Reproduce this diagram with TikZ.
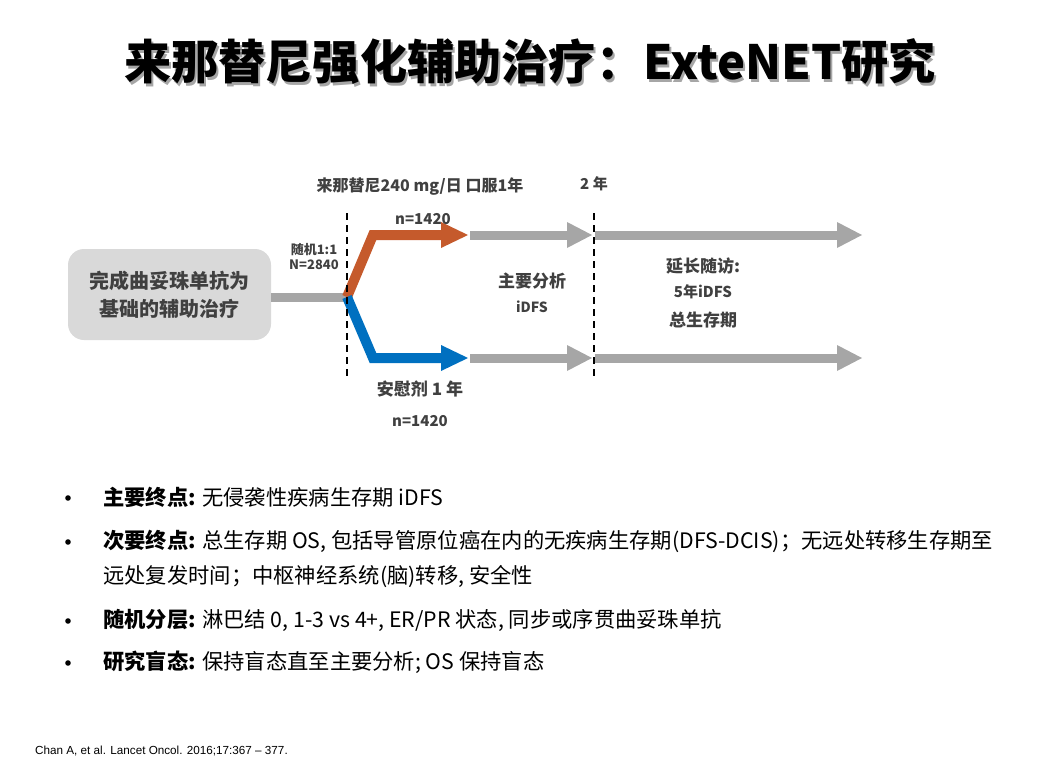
\documentclass[tikz,border=0pt]{standalone}
\usepackage{fontspec}
\setmainfont{Noto Sans CJK SC}
\newfontfamily\arialf{Liberation Sans}
\definecolor{tgray}{HTML}{404040}
\definecolor{boxgray}{HTML}{D9D9D9}
\definecolor{argray}{HTML}{A6A6A6}
\definecolor{orng}{HTML}{C55A2C}
\definecolor{blu}{HTML}{0070C0}
\newcommand{\fs}[1]{\fontsize{#1}{#1}\selectfont}
\tikzset{
  lbl/.style={inner sep=0pt, text=tgray, font=\bfseries\fs{#1}, align=center},
  bul/.style={inner sep=0pt, anchor=west, font=\fs{21.3}, text=black},
  fat/.style={line width=9pt, draw=#1},
  vdash/.style={draw=black, line width=1.6pt, dash pattern=on 7pt off 5pt}
}
\begin{document}
\begin{tikzpicture}[x=1pt,y=-1pt]
\useasboundingbox (0,0) rectangle (1055,784);
% title
\node[inner sep=0pt, font=\bfseries\fs{47.2}, text=black!35] (titleshadow) at (532,64.5) {来那替尼强化辅助治疗：ExteNET研究};
\node[inner sep=0pt, font=\bfseries\fs{47.2}, text=black] (title) at (530,62) {来那替尼强化辅助治疗：ExteNET研究};
% start box
\node[fill=boxgray, rounded corners=16pt, minimum width=203pt, minimum height=91pt, align=center,
      font=\bfseries\fontsize{20}{28}\selectfont, text=tgray, inner sep=0pt] (start) at (169.5,294.5) {完成曲妥珠单抗为\\基础的辅助治疗};
% coordinates
\coordinate (split) at (347,297);
\coordinate (obend) at (373,235);
\coordinate (oend) at (443,235);
\coordinate (otip) at (468,235);
\coordinate (bbend) at (373,358);
\coordinate (bend) at (443,358);
\coordinate (btip) at (468,358);
% gray line from box
\draw[fat=argray] (start.east |- split) -- (split);
% orange and blue branches
\draw[fat=orng, line width=10pt, line join=miter] (split) -- (obend) -- (oend);
\fill[orng] (441,222) -- (otip) -- (441,248) -- cycle;
\draw[fat=blu, line width=10pt, line join=miter] (split) -- (bbend) -- (bend);
\fill[blu] (441,345) -- (btip) -- (441,371) -- cycle;
% gray arrows
\foreach \yy in {235,358}{
  \draw[fat=argray] (470,\yy) -- (569,\yy);
  \fill[argray] (567,\yy-13) -- (592,\yy) -- (567,\yy+13) -- cycle;
  \draw[fat=argray] (595,\yy) -- (839,\yy);
  \fill[argray] (837,\yy-13) -- (862,\yy) -- (837,\yy+13) -- cycle;
}
% dashed lines
\draw[vdash] (347,213) -- (347,376);
\draw[vdash] (594,213) -- (594,376);
% labels
\node[lbl=16] (drug) at (420,187) {来那替尼240 mg/日 口服1年};
\node[lbl=15] (n1) at (423,219) {n=1420};
\node[lbl=13, align=center] (rand) at (314,257) {随机1:1\\[2pt]N=2840};
\node[lbl=15] (yr2) at (594,184) {2 年};
\node[lbl=17] (main) at (532,281) {主要分析};
\node[lbl=14] (idfs) at (532,307) {iDFS};
\node[lbl=17] (ext1) at (703,266) {延长随访:};
\node[lbl=15] (ext2) at (703,292) {5年iDFS};
\node[lbl=17] (ext3) at (703,320) {总生存期};
\node[lbl=17] (plc) at (420,389) {安慰剂 1 年};
\node[lbl=15] (n2) at (420,421) {n=1420};
% bullets
\foreach \yy in {497,541,620,662}{
  \fill (68,\yy+1) circle (2.8pt);
}
\node[bul] (b1) at (103,497) {\textbf{主要终点:} 无侵袭性疾病生存期 iDFS};
\node[bul] (b2) at (103,541) {\textbf{次要终点:} 总生存期 OS, 包括导管原位癌在内的无疾病生存期(DFS-DCIS)；无远处转移生存期至};
\node[bul] (b2b) at (103,577) {远处复发时间；中枢神经系统(脑)转移, 安全性};
\node[bul] (b3) at (103,620) {\textbf{随机分层:} 淋巴结 0, 1-3 vs 4+, ER/PR 状态, 同步或序贯曲妥珠单抗};
\node[bul] (b4) at (103,662) {\textbf{研究盲态:} 保持盲态直至主要分析; OS 保持盲态};
% citation
\node[inner sep=0pt, anchor=west, font=\arialf\fs{11.7}] (cite) at (35,751) {Chan A, et al. Lancet Oncol. 2016;17:367 – 377.};
\end{tikzpicture}
\end{document}
